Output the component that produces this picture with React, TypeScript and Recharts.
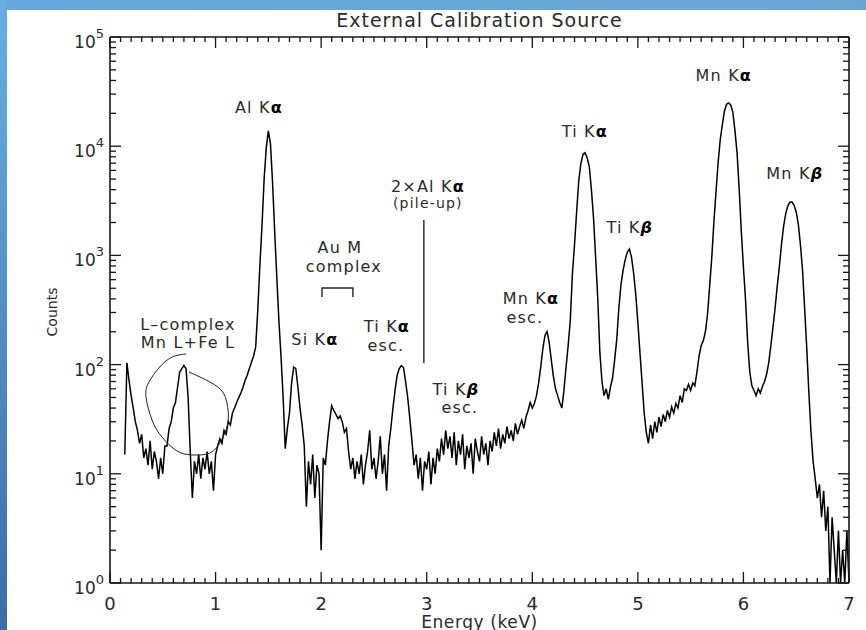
import React from 'react';
import { ComposedChart, Line, Scatter, XAxis, YAxis } from 'recharts';

// ---- spectrum: channel grid start/step (keV) and counts ----
const E_START = 0.14;
const E_STEP = 0.02;
const counts: number[] = [
  15, 104, 72, 52, 40, 30, 25, 19, 23, 14,
  17, 12, 20, 11, 16, 13, 9, 14, 10, 18,
  18, 26, 30, 40, 45, 62, 85, 92, 98, 92,
  50, 16, 6, 13, 10, 15, 9, 14, 11, 16,
  10, 13, 7, 15, 18, 21, 19, 25, 23, 30,
  28, 36, 40, 45, 50, 55, 62, 72, 80, 92,
  105, 120, 145, 320, 820, 1900, 5000, 9600, 13800, 10500,
  4600, 1650, 630, 250, 118, 50, 17, 26, 36, 68,
  95, 92, 62, 40, 28, 18, 5, 13, 8, 15,
  6, 12, 10, 2, 14, 12, 20, 30, 42, 38,
  35, 32, 34, 30, 24, 26, 16, 11, 14, 9,
  13, 10, 15, 8, 12, 16, 25, 11, 14, 9,
  13, 22, 10, 15, 7, 18, 26, 40, 58, 80,
  92, 98, 94, 70, 50, 32, 20, 12, 15, 9,
  14, 7, 13, 11, 16, 8, 14, 10, 17, 13,
  21, 15, 25, 17, 22, 14, 24, 12, 20, 15,
  23, 11, 18, 14, 19, 10, 21, 16, 13, 22,
  15, 19, 12, 20, 16, 24, 18, 26, 17, 23,
  19, 27, 21, 25, 20, 29, 23, 27, 31, 26,
  33, 38, 45, 40, 44, 52, 68, 95, 140, 185,
  200, 160, 110, 78, 60, 52, 45, 40, 58, 95,
  150, 255, 680, 1250, 2500, 4800, 6900, 8400, 8700, 7800,
  6500, 4000, 2200, 960, 410, 130, 70, 52, 60, 48,
  62, 75, 110, 170, 330, 540, 730, 910, 1070, 1145,
  960, 690, 440, 245, 128, 68, 36, 24, 19, 28,
  21, 30, 24, 33, 27, 35, 30, 38, 33, 41,
  36, 44, 40, 52, 45, 60, 58, 66, 58, 68,
  64, 86, 120, 150, 165, 200, 290, 520, 950, 2000,
  3800, 7000, 11400, 15700, 20900, 24200, 24900, 23800, 20400, 13800,
  8600, 4000, 1650, 780, 390, 160, 86, 64, 58, 52,
  60, 55, 63, 70, 82, 105, 150, 220, 330, 520,
  780, 1250, 1830, 2400, 2830, 3070, 3080, 2880, 2500, 1920,
  1250, 730, 325, 140, 55, 24, 13, 9, 6, 8,
  4, 7, 3, 5, 1, 4, 2, 1, 3, 1,
  2, 1, 3, 1,
];

// ---- axis ticks ----
const xMajor = [0, 1, 2, 3, 4, 5, 6, 7];
const yExponents = [0, 1, 2, 3, 4, 5];
const yMinorMultipliers = [2, 3, 4, 5, 6, 7, 8, 9];

// ---- annotations (energy keV, counts) ----
const annoText = ['Al K', 'Ti K', 'Mn K', 'Mn K', 'Ti K', '2×Al K', '(pile-up)', 'Au M', 'complex', 'Mn K', 'esc.', 'L–complex', 'Mn L+Fe L', 'Si K', 'Ti K', 'esc.', 'Ti K', 'esc.'];
const annoGreek = ['α', 'α', 'α', 'β', 'β', 'α', '', '', '', 'α', '', '', '', 'α', 'α', '', 'β', ''];
const annoE = [1.411, 4.498, 5.814, 6.487, 4.924, 3.011, 3.011, 2.178, 2.216, 3.987, 3.93, 0.739, 0.739, 1.941, 2.623, 2.614, 3.277, 3.314];
const annoC = [22860, 13780, 44870, 5685, 1820, 4322, 3020, 1194, 800, 407, 273, 232, 160, 172, 226, 151, 59.8, 40.9];
const annoSize = [16, 16, 16, 16, 16, 16, 14, 16, 16, 16, 16, 16, 16, 16, 16, 16, 16, 16];

// hand-drawn loop around the L-complex
const loopE = [0.72, 0.54, 0.379, 0.341, 0.398, 0.492, 0.634, 0.777, 0.947, 1.051, 1.117, 1.108, 1.032, 0.852, 0.748];
const loopC = [125, 110, 72, 50.5, 31.1, 21.7, 16.2, 14.9, 15.5, 20.0, 29.2, 44.5, 61.1, 77.0, 85.5];

// pile-up marker and Au M bracket
const pileE = [2.973, 2.973];
const pileC = [2110, 103.5];
const bracketE = [2.008, 2.008, 2.301, 2.301];
const bracketC = [416, 503, 503, 416];

const spectrum = counts.map((c, i) => ({ e: +(E_START + i * E_STEP).toFixed(3), c }));
const loop = loopE.map((e, i) => ({ e, c: loopC[i] }));
const pile = pileE.map((e, i) => ({ e, c: pileC[i] }));
const bracket = bracketE.map((e, i) => ({ e, c: bracketC[i] }));
const annos = annoText.map((t, i) => ({ e: annoE[i], c: annoC[i], t, g: annoGreek[i], s: annoSize[i] }));

const xTicks: number[] = [];
for (let i = 0; i <= 70; i++) xTicks.push(+(i / 10).toFixed(1));
const yTicks: number[] = [];
yExponents.forEach((p) => {
  yTicks.push(Math.pow(10, p));
  if (p < 5) yMinorMultipliers.forEach((m) => yTicks.push(m * Math.pow(10, p)));
});

const FONT = '"DejaVu Sans", "Liberation Sans", sans-serif';
const INK = '#151515';
const TXT = '#2a2a2a';

const isInt = (v: number) => Math.abs(v - Math.round(v)) < 1e-6;

const BottomTick = (props: any) => {
  const { x, y, payload } = props;
  const v = payload.value;
  const major = isInt(v);
  return (
    <g>
      <line x1={x} x2={x} y1={y} y2={y - (major ? 11 : 5)} stroke={INK} strokeWidth={1.3} />
      {major && xMajor.includes(Math.round(v)) ? (
        <text x={x} y={y + 27} textAnchor="middle" fontSize={18} fill={TXT} fontFamily={FONT}>
          {Math.round(v)}
        </text>
      ) : null}
    </g>
  );
};

const TopTick = (props: any) => {
  const { x, y, payload } = props;
  const major = isInt(payload.value);
  return <line x1={x} x2={x} y1={y} y2={y + (major ? 11 : 5)} stroke={INK} strokeWidth={1.3} />;
};

const LeftTick = (props: any) => {
  const { x, y, payload } = props;
  const ex = Math.log10(payload.value);
  const major = isInt(ex);
  return (
    <g>
      <line x1={x} x2={x + (major ? 11 : 6)} y1={y} y2={y} stroke={INK} strokeWidth={1.3} />
      {major ? (
        <text x={x - 6} y={y + 11} textAnchor="end" fontSize={17} fill={TXT} fontFamily={FONT}>
          10
          <tspan dy={-10} fontSize={13}>{Math.round(ex)}</tspan>
        </text>
      ) : null}
    </g>
  );
};

const RightTick = (props: any) => {
  const { x, y, payload } = props;
  const major = isInt(Math.log10(payload.value));
  return <line x1={x} x2={x - (major ? 11 : 6)} y1={y} y2={y} stroke={INK} strokeWidth={1.3} />;
};

const AnnoShape = (props: any) => {
  const { cx, cy, payload } = props;
  const s = payload.s;
  return (
    <text x={cx} y={cy + s * 0.36} textAnchor="middle" fontSize={s} fill={TXT} fontFamily={FONT} letterSpacing={1.2}>
      {payload.t}
      {payload.g ? (
        <tspan fontWeight="bold" fontStyle={payload.g === 'β' ? 'italic' : 'normal'} fill="#000">
          {payload.g}
        </tspan>
      ) : null}
    </text>
  );
};

export default function App() {
  return (
    <div style={{ position: 'absolute', left: 0, top: 0, width: 866, height: 630, background: '#ffffff', overflow: 'hidden' }}>
      <div style={{ position: 'absolute', left: 0, top: 0, width: 866, height: 10, background: 'linear-gradient(to right, #66a9dc, #6ba6d3)' }} />
      <div style={{ position: 'absolute', left: 0, top: 0, width: 7, height: 630, background: 'linear-gradient(to bottom, #68afe2, #3a6ea6)' }} />
      <div style={{ position: 'absolute', left: 0, top: 0 }}>
        <ComposedChart width={866} height={630} margin={{ top: 32, right: 12, bottom: 17, left: 50 }}>
          <XAxis
            dataKey="e"
            type="number"
            domain={[0, 7]}
            ticks={xTicks}
            interval={0}
            height={30}
            tickSize={0}
            tickMargin={0}
            tickLine={false}
            axisLine={{ stroke: INK, strokeWidth: 1.6 }}
            tick={BottomTick}
            allowDataOverflow
          />
          <XAxis
            xAxisId="top"
            orientation="top"
            dataKey="e"
            type="number"
            domain={[0, 7]}
            ticks={xTicks}
            interval={0}
            height={5}
            tickSize={0}
            tickMargin={0}
            tickLine={false}
            axisLine={{ stroke: INK, strokeWidth: 1.6 }}
            tick={TopTick}
            allowDataOverflow
          />
          <YAxis
            type="number"
            scale="log"
            domain={[1, 100000]}
            ticks={yTicks}
            interval={0}
            width={60}
            tickSize={0}
            tickMargin={0}
            tickLine={false}
            axisLine={{ stroke: INK, strokeWidth: 1.6 }}
            tick={LeftTick}
            allowDataOverflow
          />
          <YAxis
            yAxisId="right"
            orientation="right"
            type="number"
            scale="log"
            domain={[1, 100000]}
            ticks={yTicks}
            interval={0}
            width={5}
            tickSize={0}
            tickMargin={0}
            tickLine={false}
            axisLine={{ stroke: INK, strokeWidth: 1.6 }}
            tick={RightTick}
            allowDataOverflow
          />
          <Line data={spectrum} dataKey="c" type="linear" stroke="#000" strokeWidth={1.5} dot={false} isAnimationActive={false} />
          <Line data={loop} dataKey="c" type="natural" stroke="#222" strokeWidth={1} dot={false} isAnimationActive={false} />
          <Line data={pile} dataKey="c" type="linear" stroke="#222" strokeWidth={1.4} dot={false} isAnimationActive={false} />
          <Line data={bracket} dataKey="c" type="linear" stroke="#222" strokeWidth={1.4} dot={false} isAnimationActive={false} />
          <Scatter data={annos} dataKey="c" shape={AnnoShape} isAnimationActive={false} />
        </ComposedChart>
      </div>
      <div style={{ position: 'absolute', left: 110, width: 739, top: 9, textAlign: 'center', fontFamily: FONT, fontSize: 19, lineHeight: '22px', color: TXT, letterSpacing: 1 }}>
        External Calibration Source
      </div>
      <div style={{ position: 'absolute', left: 110, width: 739, top: 612, textAlign: 'center', fontFamily: FONT, fontSize: 17, lineHeight: '20px', color: TXT, letterSpacing: 0.6 }}>
        Energy (keV)
      </div>
      <div style={{ position: 'absolute', left: 52, top: 312, transform: 'translate(-50%, -50%) rotate(-90deg)', fontFamily: FONT, fontSize: 14, lineHeight: '16px', color: TXT, whiteSpace: 'nowrap' }}>
        Counts
      </div>
    </div>
  );
}
